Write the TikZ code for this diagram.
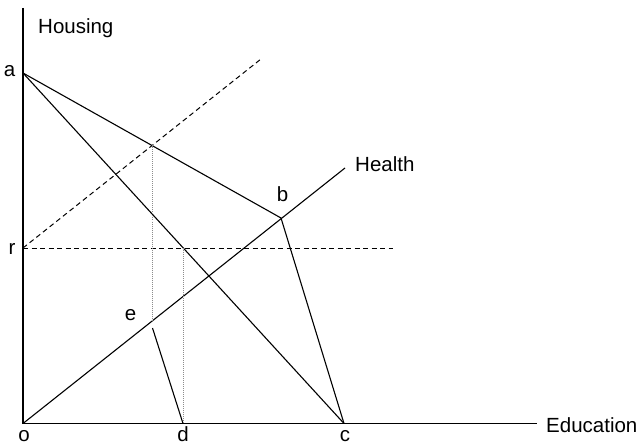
\documentclass[tikz,border=0pt]{standalone}
\usepackage{fontspec}
\setmainfont{Liberation Sans}
\begin{document}
\begin{tikzpicture}[x=1pt,y=-1pt,
  solidln/.style={line width=1.1pt,black},
  dashln/.style={line width=1.0pt,black,dash pattern=on 5pt off 3.5pt},
  dotln/.style={line width=0.8pt,black!45,dash pattern=on 1pt off 1pt},
  lbl/.style={anchor=base,inner sep=0pt,font=\fontsize{20.5}{24}\selectfont}]
\useasboundingbox (0,0) rectangle (639,446);
% points
\coordinate (o) at (23,423.5);
\coordinate (ytop) at (23,8);
\coordinate (xend) at (537,423.5);
\coordinate (a) at (23,73);
\coordinate (r) at (23,248);
\coordinate (b) at (281,218);
\coordinate (c) at (344,423.5);
\coordinate (d) at (183,423.5);
\coordinate (e) at (152,321.5);
\coordinate (es) at (152.5,328);
\coordinate (hend) at (345,168);
\coordinate (dend) at (261,59);
\coordinate (rend) at (393,248);
\coordinate (p) at (152,145.5);
\coordinate (q) at (183,248);
% axes
\draw[solidln] (ytop) -- (o) -- (xend);
% lines
\draw[solidln] (o) -- (hend);
\draw[solidln] (a) -- (b) -- (c);
\draw[solidln] (a) -- (c);
\draw[solidln] (es) -- (d);
\draw[dashln] (r) -- (dend);
\draw[dashln] (r) -- (rend);
\draw[dotln] (p) -- (e);
\draw[dotln] (q) -- (d);
% labels
\node[lbl,anchor=base west] (lhous) at (38,34) {Housing};
\node[lbl,anchor=base west] (ledu) at (546,432) {Education};
\node[lbl,anchor=base west] (lhea) at (355,172) {Health};
\node[lbl] (la) at (9.5,77) {a};
\node[lbl] (lr) at (12,254) {r};
\node[lbl] (lo) at (24,441.5) {o};
\node[lbl] (ld) at (183,441.5) {d};
\node[lbl] (lc) at (345,441.5) {c};
\node[lbl] (le) at (130.5,320) {e};
\node[lbl] (lb) at (282.5,202) {b};
\end{tikzpicture}
\end{document}
